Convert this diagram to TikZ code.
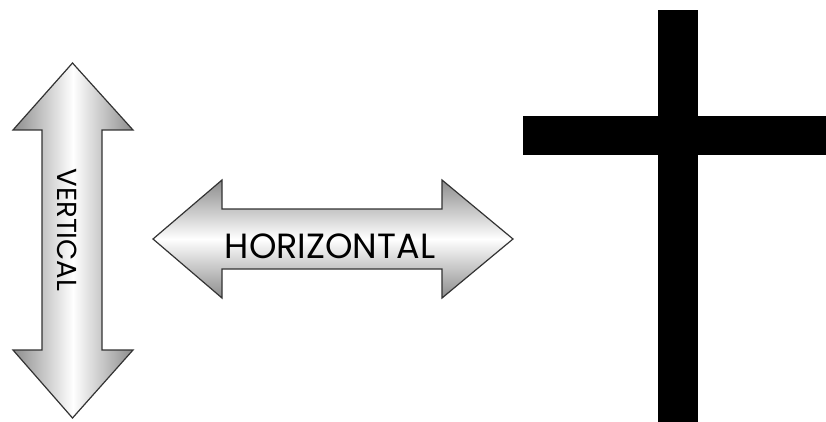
\documentclass[tikz,border=0pt]{standalone}
\usepackage{fontspec}
\setmainfont{Poppins}
\begin{document}
\begin{tikzpicture}[x=1pt,y=-1pt,
  arrowshape/.style={draw=black!80, line width=1.2pt, line join=miter},
  vshade/.style={left color=black!45, right color=black!45, middle color=white},
  hshade/.style={top color=black!45, bottom color=black!45, middle color=white},
  lbl/.style={inner sep=0pt, text=black},
  bar/.style={fill=black, draw=none}]
\useasboundingbox (0,0) rectangle (826,422);
% vertical arrow
\path[arrowshape, vshade] (72.5,63) -- (133,130) -- (102,130) -- (102,350) -- (133,350)
  -- (72.5,418) -- (13,350) -- (42,350) -- (42,130) -- (13,130) -- cycle;
\node[lbl, rotate=-90, font=\fontsize{27.5}{29}\selectfont] (vert) at (67,230) {VERTICAL};
% horizontal arrow
\path[arrowshape, hshade] (153,239) -- (222,180) -- (222,209) -- (442,209) -- (442,180)
  -- (513,239) -- (442,298) -- (442,269) -- (222,269) -- (222,298) -- cycle;
\node[lbl, font=\fontsize{35}{37}\selectfont] (horiz) at (330,246) {HORIZONTAL};
% cross
\fill[bar] (658,10) rectangle (698,422);
\fill[bar] (523,116) rectangle (826,155);
\end{tikzpicture}
\end{document}
